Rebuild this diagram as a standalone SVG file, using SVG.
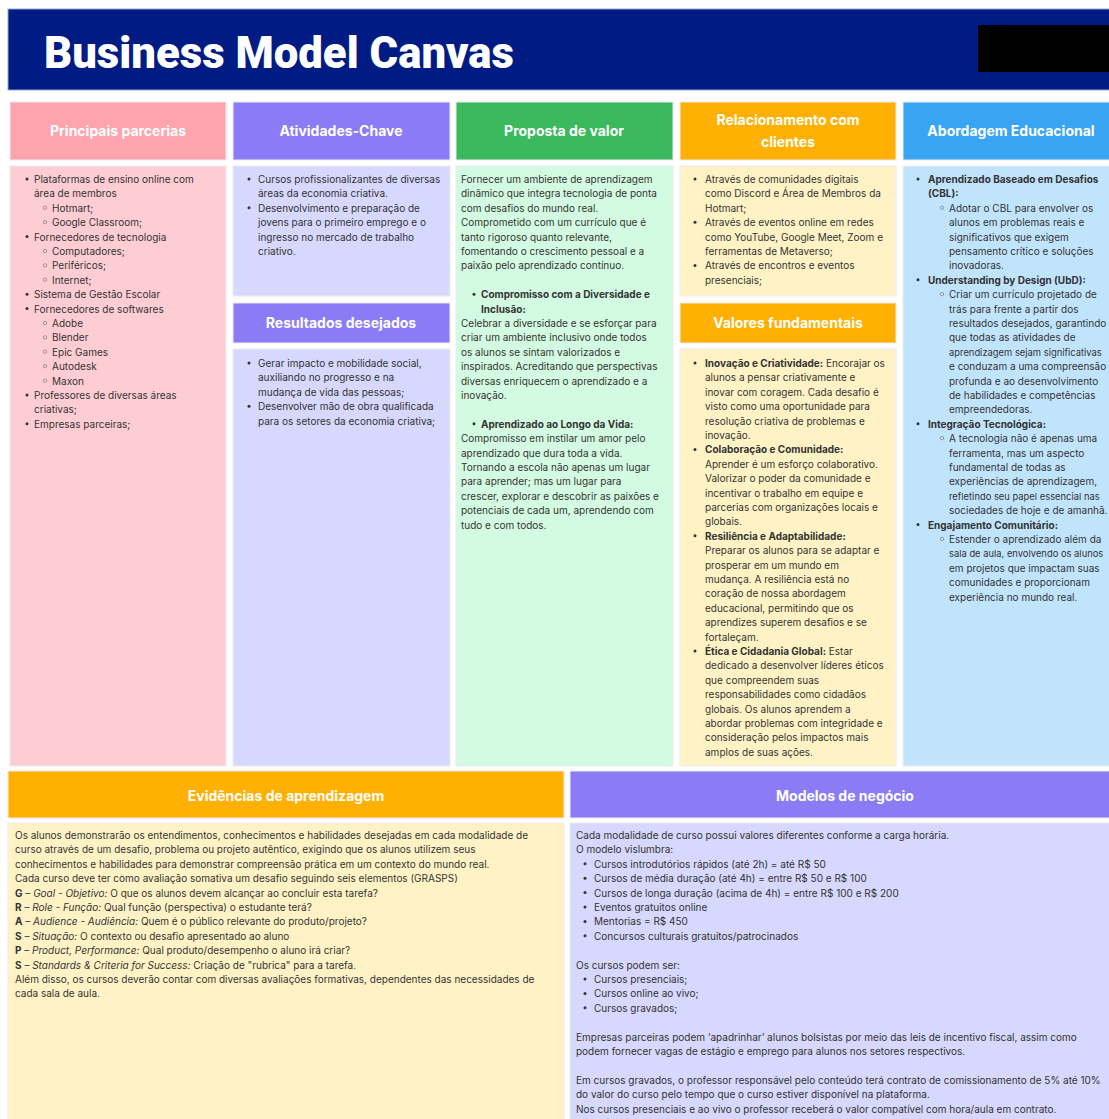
<svg xmlns="http://www.w3.org/2000/svg" xmlns:xlink="http://www.w3.org/1999/xlink" width="1109" height="1119" viewBox="0 0 1109 1119">
  <defs>
    <style>
      .bg{fill:#ffffff}
      .cell{stroke:#ececf2;stroke-width:1}
      .title{font-family:Roboto,"Liberation Sans",sans-serif;font-weight:900;font-size:45px;fill:#ffffff}
      .hd{font-family:Inter,"Liberation Sans",sans-serif;font-weight:700;font-size:14px;fill:#ffffff;text-anchor:middle}
      .tx{font-family:Inter,"Liberation Sans",sans-serif;font-size:10px;fill:#333333}
      .fit{font-size:9.4px}
      .b{font-weight:700}
      .i{font-style:italic}
      .pink-h{fill:#fda4af}.pink-b{fill:#fecdd3}
      .vio-h{fill:#8b7cf6}.vio-b{fill:#d6d8fd}
      .grn-h{fill:#3bb95d}.grn-b{fill:#d3fbe1}
      .amb-h{fill:#ffb000}.amb-b{fill:#fff3c5}
      .sky-h{fill:#39a5f2}.sky-b{fill:#c1e4fd}
    </style>
    <circle id="dot" r="1.5" fill="#333333"/>
    <circle id="ring" r="1.7" fill="none" stroke="#7a7a7a" stroke-width="0.7"/>
  </defs>

  <rect class="bg" x="0" y="0" width="1109" height="1119"/>

  <!-- title bar -->
  <g id="title-bar">
    <rect x="8" y="9" width="1110" height="81" fill="#001c84" stroke="#9aa3cf" stroke-width="1"/>
    <text class="title" x="44" y="68" textLength="470" lengthAdjust="spacingAndGlyphs">Business Model Canvas</text>
    <rect x="978" y="25" width="140" height="47" fill="#000000"/>
  </g>

  <!-- Principais parcerias -->
  <g id="principais-parcerias">
    <rect class="cell pink-h" x="10" y="102" width="216" height="58"/>
    <text class="hd" x="118" y="136">Principais parcerias</text>
    <rect class="cell pink-b" x="10" y="166" width="216" height="600"/>
    <g class="tx">
      <use href="#dot" x="27" y="179"/><text x="34" y="183">Plataformas de ensino online com</text>
      <text x="34" y="197.4">área de membros</text>
      <use href="#ring" x="45" y="207.8"/><text x="52" y="211.8">Hotmart;</text>
      <use href="#ring" x="45" y="222.2"/><text x="52" y="226.2">Google Classroom;</text>
      <use href="#dot" x="27" y="236.6"/><text x="34" y="240.6">Fornecedores de tecnologia</text>
      <use href="#ring" x="45" y="251"/><text x="52" y="255">Computadores;</text>
      <use href="#ring" x="45" y="265.4"/><text x="52" y="269.4">Periféricos;</text>
      <use href="#ring" x="45" y="279.8"/><text x="52" y="283.8">Internet;</text>
      <use href="#dot" x="27" y="294.2"/><text x="34" y="298.2">Sistema de Gestão Escolar</text>
      <use href="#dot" x="27" y="308.6"/><text x="34" y="312.6">Fornecedores de softwares</text>
      <use href="#ring" x="45" y="323"/><text x="52" y="327">Adobe</text>
      <use href="#ring" x="45" y="337.4"/><text x="52" y="341.4">Blender</text>
      <use href="#ring" x="45" y="351.8"/><text x="52" y="355.8">Epic Games</text>
      <use href="#ring" x="45" y="366.2"/><text x="52" y="370.2">Autodesk</text>
      <use href="#ring" x="45" y="380.6"/><text x="52" y="384.6">Maxon</text>
      <use href="#dot" x="27" y="395"/><text x="34" y="399">Professores de diversas áreas</text>
      <text x="34" y="413.4">criativas;</text>
      <use href="#dot" x="27" y="423.8"/><text x="34" y="427.8">Empresas parceiras;</text>
    </g>
  </g>

  <!-- Atividades-Chave -->
  <g id="atividades-chave">
    <rect class="cell vio-h" x="233" y="102" width="217" height="58"/>
    <text class="hd" x="341" y="136">Atividades-Chave</text>
    <rect class="cell vio-b" x="233" y="166" width="217" height="130"/>
    <g class="tx">
      <use href="#dot" x="249" y="179"/><text x="258" y="183">Cursos profissionalizantes de diversas</text>
      <text x="258" y="197.4">áreas da economia criativa.</text>
      <use href="#dot" x="249" y="207.8"/><text x="258" y="211.8">Desenvolvimento e preparação de</text>
      <text x="258" y="226.2">jovens para o primeiro emprego e o</text>
      <text x="258" y="240.6">ingresso no mercado de trabalho</text>
      <text x="258" y="255">criativo.</text>
    </g>
  </g>

  <!-- Resultados desejados -->
  <g id="resultados-desejados">
    <rect class="cell vio-h" x="233" y="303" width="217" height="40"/>
    <text class="hd" x="341" y="328">Resultados desejados</text>
    <rect class="cell vio-b" x="233" y="349" width="217" height="417"/>
    <g class="tx">
      <use href="#dot" x="249" y="363"/><text x="258" y="367">Gerar impacto e mobilidade social,</text>
      <text x="258" y="381.4">auxiliando no progresso e na</text>
      <text x="258" y="395.8">mudança de vida das pessoas;</text>
      <use href="#dot" x="249" y="406.2"/><text x="258" y="410.2">Desenvolver mão de obra qualificada</text>
      <text x="258" y="424.6">para os setores da economia criativa;</text>
    </g>
  </g>

  <!-- Proposta de valor -->
  <g id="proposta-de-valor">
    <rect class="cell grn-h" x="456" y="102" width="217" height="58"/>
    <text class="hd" x="564" y="136">Proposta de valor</text>
    <rect class="cell grn-b" x="456" y="166" width="217" height="600"/>
    <g class="tx">
      <text x="461" y="183">Fornecer um ambiente de aprendizagem</text>
      <text x="461" y="197.4">dinâmico que integra tecnologia de ponta</text>
      <text x="461" y="211.8">com desafios do mundo real.</text>
      <text x="461" y="226.2">Comprometido com um currículo que é</text>
      <text x="461" y="240.6">tanto rigoroso quanto relevante,</text>
      <text x="461" y="255">fomentando o crescimento pessoal e a</text>
      <text x="461" y="269.4">paixão pelo aprendizado contínuo.</text>
      <use href="#dot" x="474" y="294.2"/><text class="b" x="481" y="298.2">Compromisso com a Diversidade e</text>
      <text class="b" x="481" y="312.6">Inclusão:</text>
      <text x="461" y="327">Celebrar a diversidade e se esforçar para</text>
      <text x="461" y="341.4">criar um ambiente inclusivo onde todos</text>
      <text x="461" y="355.8">os alunos se sintam valorizados e</text>
      <text x="461" y="370.2">inspirados. Acreditando que perspectivas</text>
      <text x="461" y="384.6">diversas enriquecem o aprendizado e a</text>
      <text x="461" y="399">inovação.</text>
      <use href="#dot" x="474" y="423.8"/><text class="b" x="481" y="427.8">Aprendizado ao Longo da Vida:</text>
      <text x="461" y="442.2">Compromisso em instilar um amor pelo</text>
      <text x="461" y="456.6">aprendizado que dura toda a vida.</text>
      <text x="461" y="471">Tornando a escola não apenas um lugar</text>
      <text x="461" y="485.4">para aprender; mas um lugar para</text>
      <text x="461" y="499.8">crescer, explorar e descobrir as paixões e</text>
      <text x="461" y="514.2">potenciais de cada um, aprendendo com</text>
      <text x="461" y="528.6">tudo e com todos.</text>
    </g>
  </g>

  <!-- Relacionamento com clientes -->
  <g id="relacionamento-com-clientes">
    <rect class="cell amb-h" x="680" y="102" width="216" height="58"/>
    <text class="hd" x="788" y="125">Relacionamento com</text>
    <text class="hd" x="788" y="147">clientes</text>
    <rect class="cell amb-b" x="680" y="166" width="216" height="130"/>
    <g class="tx">
      <use href="#dot" x="695" y="179"/><text x="705" y="183">Através de comunidades digitais</text>
      <text x="705" y="197.4">como Discord e Área de Membros da</text>
      <text x="705" y="211.8">Hotmart;</text>
      <use href="#dot" x="695" y="222.2"/><text x="705" y="226.2">Através de eventos online em redes</text>
      <text x="705" y="240.6">como YouTube, Google Meet, Zoom e</text>
      <text x="705" y="255">ferramentas de Metaverso;</text>
      <use href="#dot" x="695" y="265.4"/><text x="705" y="269.4">Através de encontros e eventos</text>
      <text x="705" y="283.8">presenciais;</text>
    </g>
  </g>

  <!-- Valores fundamentais -->
  <g id="valores-fundamentais">
    <rect class="cell amb-h" x="680" y="303" width="216" height="40"/>
    <text class="hd" x="788" y="328">Valores fundamentais</text>
    <rect class="cell amb-b" x="680" y="349" width="216" height="417"/>
    <g class="tx">
      <use href="#dot" x="695" y="363"/><text x="705" y="367"><tspan class="b">Inovação e Criatividade:</tspan> Encorajar os</text>
      <text x="705" y="381.4">alunos a pensar criativamente e</text>
      <text x="705" y="395.8">inovar com coragem. Cada desafio é</text>
      <text x="705" y="410.2">visto como uma oportunidade para</text>
      <text x="705" y="424.6">resolução criativa de problemas e</text>
      <text x="705" y="439">inovação.</text>
      <use href="#dot" x="695" y="449.4"/><text class="b" x="705" y="453.4">Colaboração e Comunidade:</text>
      <text x="705" y="467.8">Aprender é um esforço colaborativo.</text>
      <text x="705" y="482.2">Valorizar o poder da comunidade e</text>
      <text x="705" y="496.6">incentivar o trabalho em equipe e</text>
      <text x="705" y="511">parcerias com organizações locais e</text>
      <text x="705" y="525.4">globais.</text>
      <use href="#dot" x="695" y="535.8"/><text class="b" x="705" y="539.8">Resiliência e Adaptabilidade:</text>
      <text x="705" y="554.2">Preparar os alunos para se adaptar e</text>
      <text x="705" y="568.6">prosperar em um mundo em</text>
      <text x="705" y="583">mudança. A resiliência está no</text>
      <text x="705" y="597.4">coração de nossa abordagem</text>
      <text x="705" y="611.8">educacional, permitindo que os</text>
      <text x="705" y="626.2">aprendizes superem desafios e se</text>
      <text x="705" y="640.6">fortaleçam.</text>
      <use href="#dot" x="695" y="651"/><text x="705" y="655"><tspan class="b">Ética e Cidadania Global:</tspan> Estar</text>
      <text x="705" y="669.4">dedicado a desenvolver líderes éticos</text>
      <text x="705" y="683.8">que compreendem suas</text>
      <text x="705" y="698.2">responsabilidades como cidadãos</text>
      <text x="705" y="712.6">globais. Os alunos aprendem a</text>
      <text x="705" y="727">abordar problemas com integridade e</text>
      <text x="705" y="741.4">consideração pelos impactos mais</text>
      <text x="705" y="755.8">amplos de suas ações.</text>
    </g>
  </g>

  <!-- Abordagem Educacional -->
  <g id="abordagem-educacional">
    <rect class="cell sky-h" x="903" y="102" width="215" height="58"/>
    <text class="hd" x="1011" y="136">Abordagem Educacional</text>
    <rect class="cell sky-b" x="903" y="166" width="215" height="600"/>
    <g class="tx">
      <use href="#dot" x="918" y="179"/><text class="b" x="928" y="183">Aprendizado Baseado em Desafios</text>
      <text class="b" x="928" y="197.4">(CBL):</text>
      <use href="#ring" x="942" y="207.8"/><text x="949" y="211.8">Adotar o CBL para envolver os</text>
      <text x="949" y="226.2">alunos em problemas reais e</text>
      <text x="949" y="240.6">significativos que exigem</text>
      <text x="949" y="255">pensamento crítico e soluções</text>
      <text x="949" y="269.4">inovadoras.</text>
      <use href="#dot" x="918" y="279.8"/><text class="b" x="928" y="283.8">Understanding by Design (UbD):</text>
      <use href="#ring" x="942" y="294.2"/><text x="949" y="298.2">Criar um currículo projetado de</text>
      <text x="949" y="312.6">trás para frente a partir dos</text>
      <text x="949" y="327">resultados desejados, garantindo</text>
      <text x="949" y="341.4">que todas as atividades de</text>
      <text class="fit" x="949" y="355.8">aprendizagem sejam significativas</text>
      <text x="949" y="370.2">e conduzam a uma compreensão</text>
      <text x="949" y="384.6">profunda e ao desenvolvimento</text>
      <text x="949" y="399">de habilidades e competências</text>
      <text x="949" y="413.4">empreendedoras.</text>
      <use href="#dot" x="918" y="423.8"/><text class="b" x="928" y="427.8">Integração Tecnológica:</text>
      <use href="#ring" x="942" y="438.2"/><text x="949" y="442.2">A tecnologia não é apenas uma</text>
      <text x="949" y="456.6">ferramenta, mas um aspecto</text>
      <text x="949" y="471">fundamental de todas as</text>
      <text x="949" y="485.4">experiências de aprendizagem,</text>
      <text class="fit" x="949" y="499.8">refletindo seu papel essencial nas</text>
      <text x="949" y="514.2">sociedades de hoje e de amanhã.</text>
      <use href="#dot" x="918" y="524.6"/><text class="b" x="928" y="528.6">Engajamento Comunitário:</text>
      <use href="#ring" x="942" y="539"/><text x="949" y="543">Estender o aprendizado além da</text>
      <text class="fit" x="949" y="557.4">sala de aula, envolvendo os alunos</text>
      <text x="949" y="571.8">em projetos que impactam suas</text>
      <text x="949" y="586.2">comunidades e proporcionam</text>
      <text x="949" y="600.6">experiência no mundo real.</text>
    </g>
  </g>

  <!-- Evidências de aprendizagem -->
  <g id="evidencias-de-aprendizagem">
    <rect class="cell amb-h" x="8" y="771" width="556" height="47"/>
    <text class="hd" x="286" y="801">Evidências de aprendizagem</text>
    <rect class="cell amb-b" x="8" y="823" width="556" height="300"/>
    <g class="tx">
      <text x="15" y="839">Os alunos demonstrarão os entendimentos, conhecimentos e habilidades desejadas em cada modalidade de</text>
      <text x="15" y="853.4">curso através de um desafio, problema ou projeto autêntico, exigindo que os alunos utilizem seus</text>
      <text x="15" y="867.8">conhecimentos e habilidades para demonstrar compreensão prática em um contexto do mundo real.</text>
      <text x="15" y="882.2">Cada curso deve ter como avaliação somativa um desafio seguindo seis elementos (GRASPS)</text>
      <text x="15" y="896.6"><tspan class="b">G</tspan> – <tspan class="i">Goal - Objetivo:</tspan> O que os alunos devem alcançar ao concluir esta tarefa?</text>
      <text x="15" y="911"><tspan class="b">R</tspan> – <tspan class="i">Role - Função:</tspan> Qual função (perspectiva) o estudante terá?</text>
      <text x="15" y="925.4"><tspan class="b">A</tspan> – <tspan class="i">Audience - Audiência:</tspan> Quem é o público relevante do produto/projeto?</text>
      <text x="15" y="939.8"><tspan class="b">S</tspan> – <tspan class="i">Situação:</tspan> O contexto ou desafio apresentado ao aluno</text>
      <text x="15" y="954.2"><tspan class="b">P</tspan> – <tspan class="i">Product, Performance:</tspan> Qual produto/desempenho o aluno irá criar?</text>
      <text x="15" y="968.6"><tspan class="b">S</tspan> – <tspan class="i">Standards &amp; Criteria for Success:</tspan> Criação de "rubrica" para a tarefa.</text>
      <text x="15" y="983">Além disso, os cursos deverão contar com diversas avaliações formativas, dependentes das necessidades de</text>
      <text x="15" y="997.4">cada sala de aula.</text>
    </g>
  </g>

  <!-- Modelos de negócio -->
  <g id="modelos-de-negocio">
    <rect class="cell vio-h" x="570" y="771" width="548" height="47"/>
    <text class="hd" x="845" y="801">Modelos de negócio</text>
    <rect class="cell vio-b" x="570" y="823" width="548" height="300"/>
    <g class="tx">
      <text x="576" y="839">Cada modalidade de curso possui valores diferentes conforme a carga horária.</text>
      <text x="576" y="853.4">O modelo vislumbra:</text>
      <use href="#dot" x="585" y="863.8"/><text x="594" y="867.8">Cursos introdutórios rápidos (até 2h) = até R$ 50</text>
      <use href="#dot" x="585" y="878.2"/><text x="594" y="882.2">Cursos de média duração (até 4h) = entre R$ 50 e R$ 100</text>
      <use href="#dot" x="585" y="892.6"/><text x="594" y="896.6">Cursos de longa duração (acima de 4h) = entre R$ 100 e R$ 200</text>
      <use href="#dot" x="585" y="907"/><text x="594" y="911">Eventos gratuitos online</text>
      <use href="#dot" x="585" y="921.4"/><text x="594" y="925.4">Mentorias = R$ 450</text>
      <use href="#dot" x="585" y="935.8"/><text x="594" y="939.8">Concursos culturais gratuitos/patrocinados</text>
      <text x="576" y="968.6">Os cursos podem ser:</text>
      <use href="#dot" x="585" y="979"/><text x="594" y="983">Cursos presenciais;</text>
      <use href="#dot" x="585" y="993.4"/><text x="594" y="997.4">Cursos online ao vivo;</text>
      <use href="#dot" x="585" y="1007.8"/><text x="594" y="1011.8">Cursos gravados;</text>
      <text x="576" y="1040.6">Empresas parceiras podem ‘apadrinhar’ alunos bolsistas por meio das leis de incentivo fiscal, assim como</text>
      <text x="576" y="1055">podem fornecer vagas de estágio e emprego para alunos nos setores respectivos.</text>
      <text x="576" y="1083.8">Em cursos gravados, o professor responsável pelo conteúdo terá contrato de comissionamento de 5% até 10%</text>
      <text x="576" y="1098.2">do valor do curso pelo tempo que o curso estiver disponível na plataforma.</text>
      <text x="576" y="1112.6">Nos cursos presenciais e ao vivo o professor receberá o valor compatível com hora/aula em contrato.</text>
    </g>
  </g>
</svg>
